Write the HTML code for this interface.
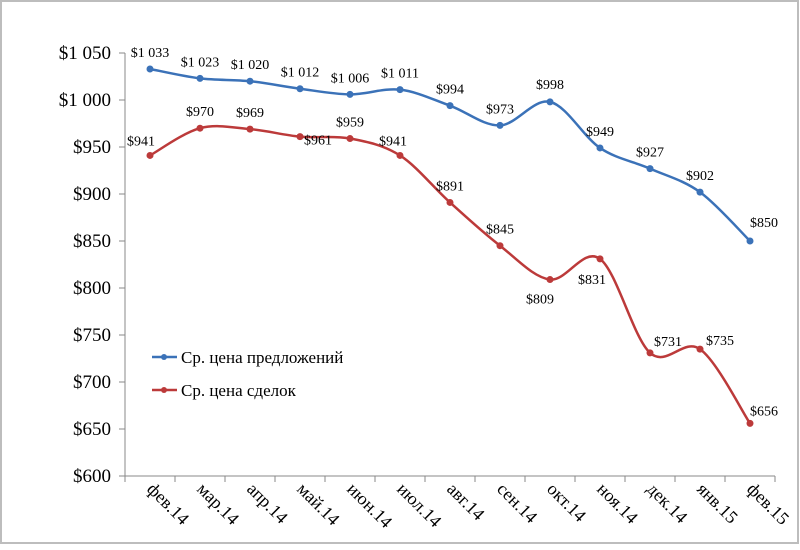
<!DOCTYPE html><html><head><meta charset="utf-8"><style>
body{margin:0;background:#fff}
svg text{font-family:"Liberation Serif","Times New Roman",serif}
</style></head><body>
<svg id="s" width="800" height="545" viewBox="0 0 800 545" font-family="Liberation Serif, serif">
<rect x="1" y="1" width="797" height="542" fill="#fff" stroke="#bdbdbd" stroke-width="2"/>
<g id="g"></g>
</svg>
<script>
var ns="http://www.w3.org/2000/svg",g=document.getElementById('g');
function el(t,a,txt){var e=document.createElementNS(ns,t);for(var k in a)e.setAttribute(k,a[k]);if(t=='text')e.setAttribute('font-family','Liberation Serif, serif');if(txt!=null)e.textContent=txt;g.appendChild(e);return e;}
function Y(v){return 476-(v-600)*0.94;}
function X(i){return 150+50*i;}
el('line',{x1:125,y1:53,x2:125,y2:476,stroke:'#888'});
el('line',{x1:125,y1:476,x2:775,y2:476,stroke:'#888'});
for(var v=600;v<=1050;v+=50){var y=Y(v);el('line',{x1:119,y1:y,x2:125,y2:y,stroke:'#888'});
var s=v>=1000?'$1 '+String(v).slice(1):'$'+v;el('text',{x:111,y:y+6,'text-anchor':'end','font-size':19},s);}
var cats=['фев.14','мар.14','апр.14','май.14','июн.14','июл.14','авг.14','сен.14','окт.14','ноя.14','дек.14','янв.15','фев.15'];
for(var i=0;i<=13;i++){var x=125+50*i;el('line',{x1:x,y1:476,x2:x,y2:482,stroke:'#888'});}
cats.forEach(function(c,i){var x=X(i)-4,y=490;el('text',{x:x,y:y,'font-size':18,transform:'rotate(45 '+x+' '+y+')'},c);});
var B=[1033,1023,1020,1012,1006,1011,994,973,998,949,927,902,850];
var R=[941,970,969,961,959,941,891,845,809,831,731,735,656];
function path(d){var p=d.map(function(v,i){return[X(i),Y(v)]});var s='M'+p[0][0]+','+p[0][1];
for(var i=0;i<p.length-1;i++){var p0=p[i-1]||p[i],p1=p[i],p2=p[i+1],p3=p[i+2]||p2,t=6;
s+=' C'+(p1[0]+(p2[0]-p0[0])/t)+','+(p1[1]+(p2[1]-p0[1])/t)+' '+(p2[0]-(p3[0]-p1[0])/t)+','+(p2[1]-(p3[1]-p1[1])/t)+' '+p2[0]+','+p2[1];}return s;}
function fmt(v){return v>=1000?'$1 '+String(v).slice(1):'$'+v;}
function series(d,col,offs){el('path',{d:path(d),fill:'none',stroke:col,'stroke-width':2.5});
d.forEach(function(v,i){el('circle',{cx:X(i),cy:Y(v),r:3.5,fill:col});});
d.forEach(function(v,i){var o=offs[i]||[0,-12];el('text',{x:X(i)+o[0],y:Y(v)+o[1],'text-anchor':'middle','font-size':14},fmt(v));});}
series(B,'#3b72b8',{8:[0,-13],12:[14,-14]});
series(R,'#bc3a3a',{0:[-9,-10],3:[18,8],5:[-7,-10],8:[-10,24],9:[-8,25],10:[18,-7],11:[20,-4],12:[14,-8]});
el('line',{x1:152,y1:357,x2:177,y2:357,stroke:'#3b72b8','stroke-width':2.5});el('circle',{cx:164,cy:357,r:3,fill:'#3b72b8'});
el('text',{x:181,y:363,'font-size':17},'Ср. цена предложений');
el('line',{x1:152,y1:390,x2:177,y2:390,stroke:'#bc3a3a','stroke-width':2.5});el('circle',{cx:164,cy:390,r:3,fill:'#bc3a3a'});
el('text',{x:181,y:396,'font-size':17},'Ср. цена сделок');
</script>
</body></html>
